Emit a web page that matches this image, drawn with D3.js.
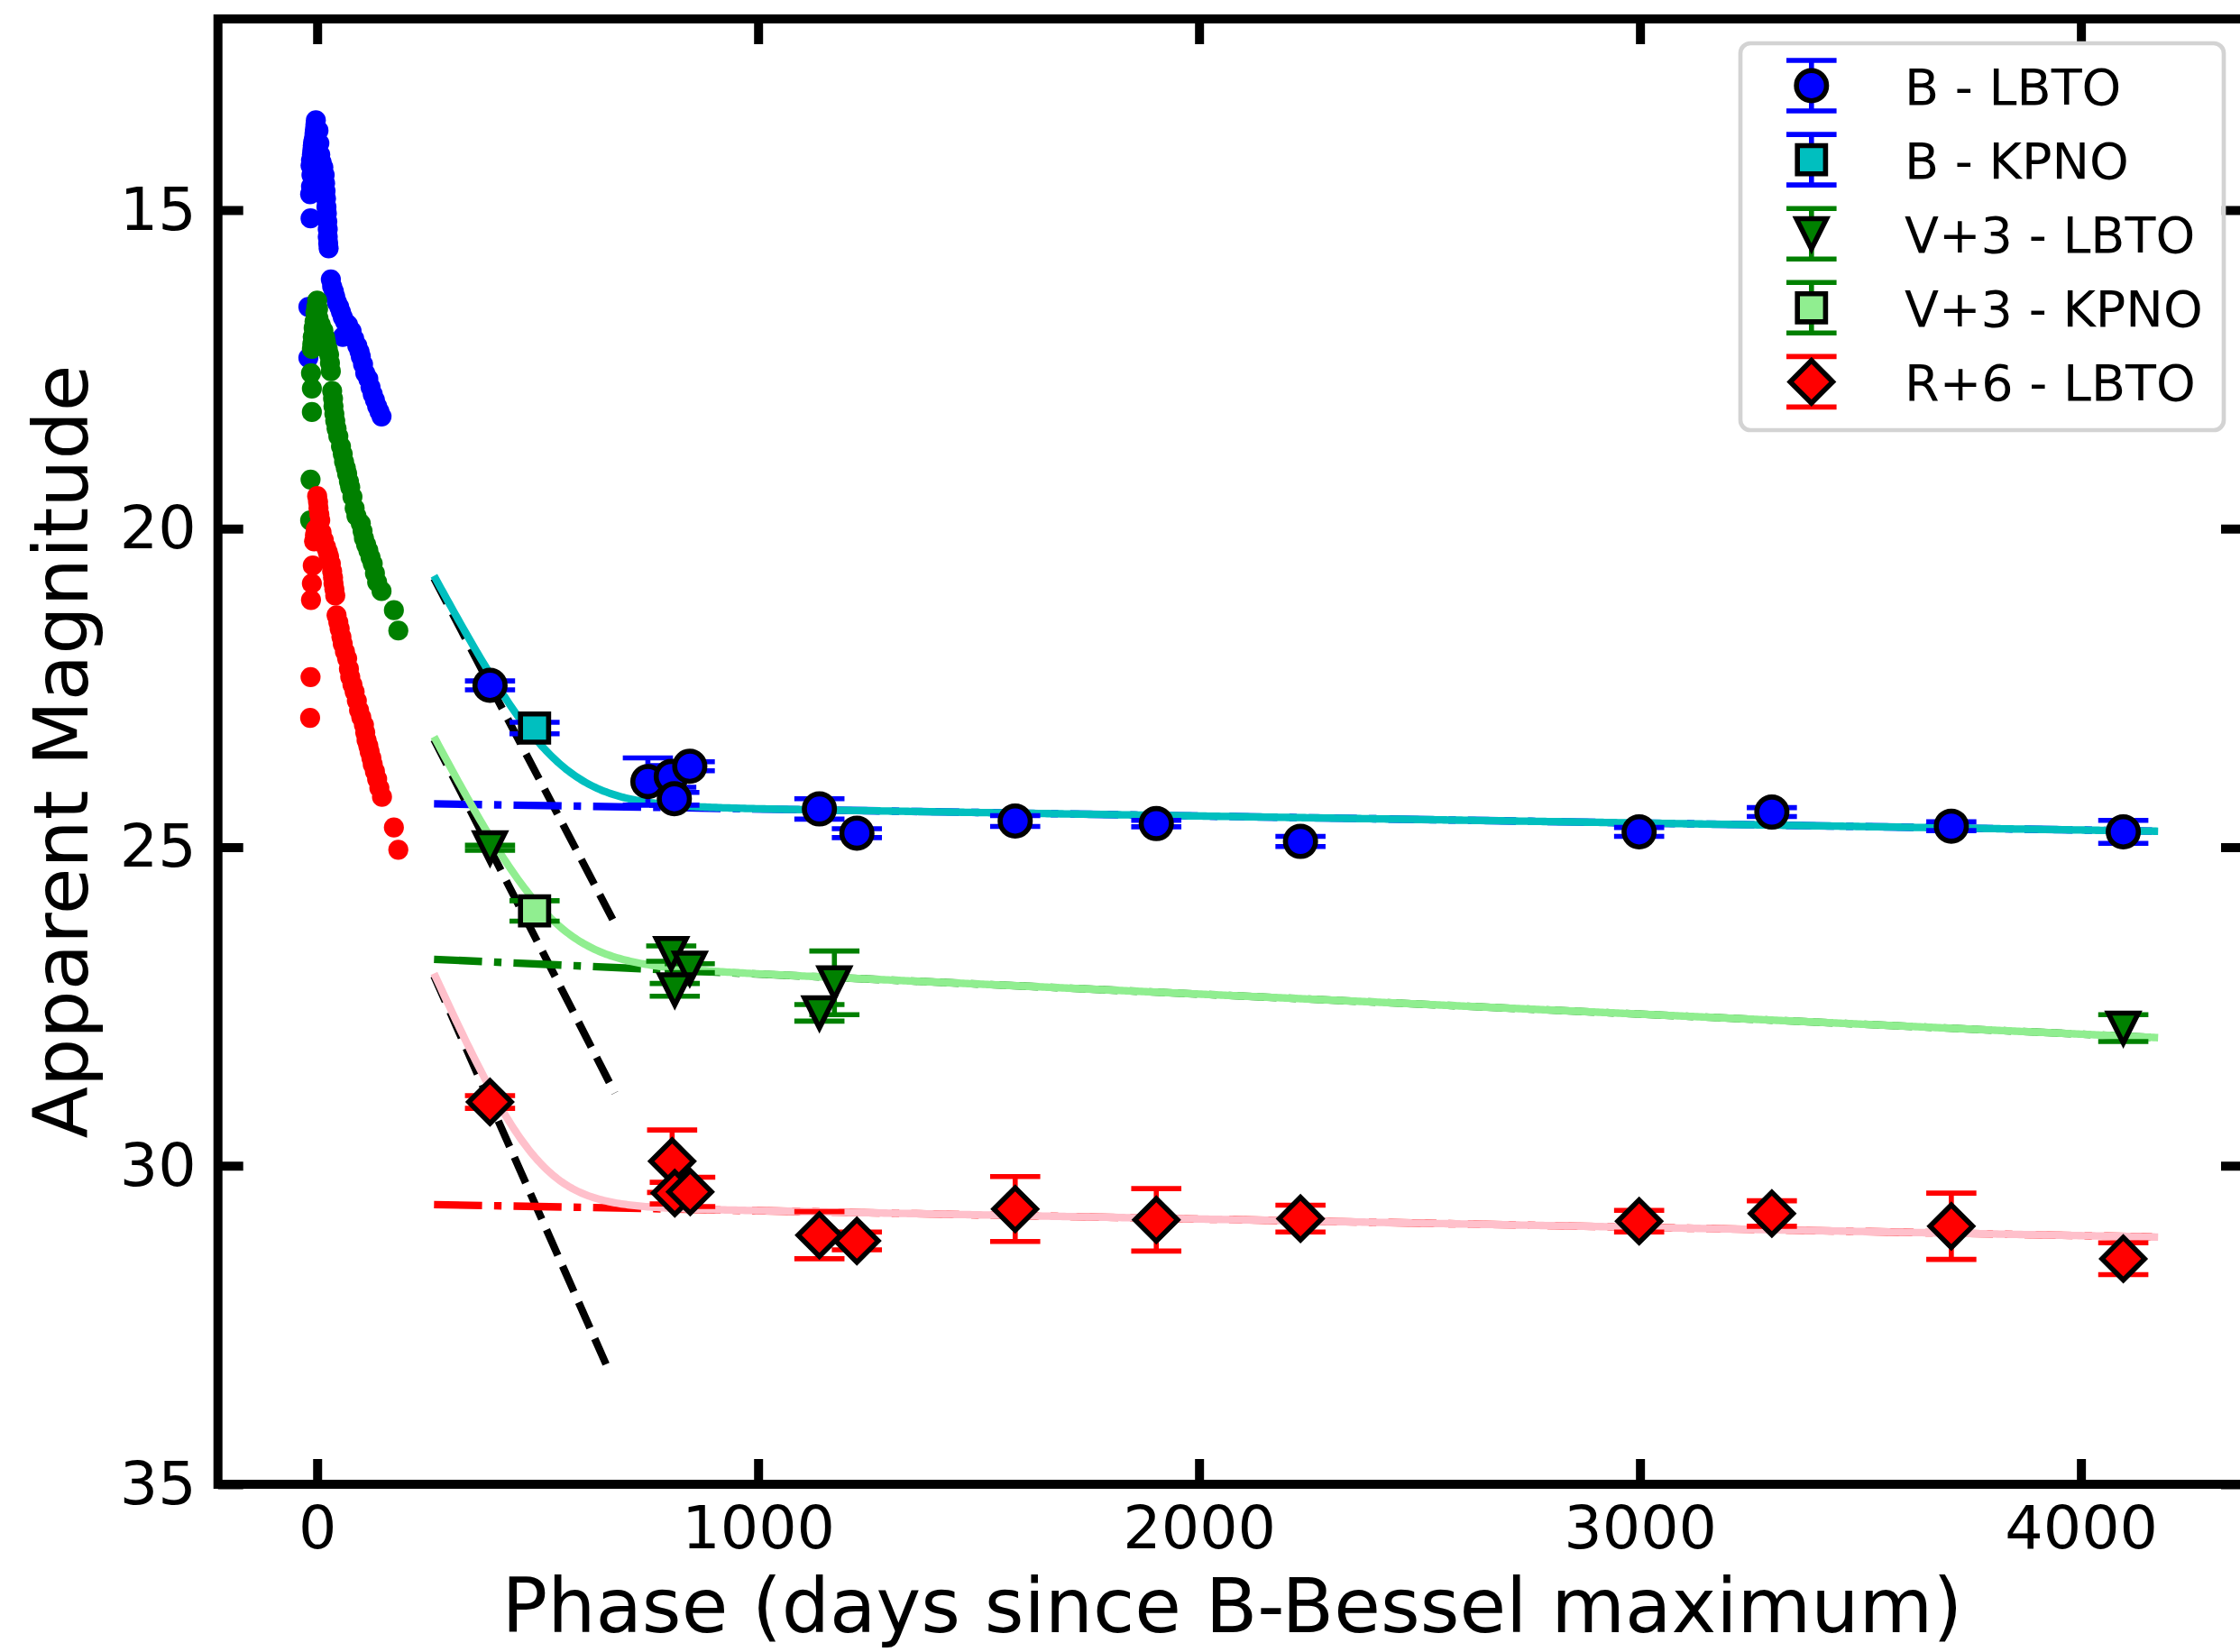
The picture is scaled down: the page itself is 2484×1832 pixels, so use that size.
<!DOCTYPE html>
<html>
<head>
<meta charset="utf-8">
<script src="https://cdn.jsdelivr.net/npm/d3@7"></script>
<style>
  body { margin: 0; background: #fff; }
  svg text { font-family: "DejaVu Sans", sans-serif; }
</style>
</head>
<body>
<svg id="chart"></svg>
<script>
const width  = 2484;
const height = 1832;

const x_ticks = [0, 1000, 2000, 3000, 4000];
const y_ticks = [15, 20, 25, 30, 35];

// early light curve, [phase, mag]
const early_b = [
  [-3, 13.59], [-4, 13.66], [-5, 13.73], [-6, 13.80], [-7, 13.87], [-9, 13.93], [-10, 13.99], [-11, 14.06],
  [-12, 14.13], [-14, 14.22], [-15, 14.30], [-13, 14.45], [-14, 14.63], [-16, 14.75], [-15, 15.13],
  [3, 13.75], [5, 13.95], [7, 14.13], [10, 14.25], [14, 14.33], [17, 14.45], [18, 14.58], [19, 14.70],
  [20, 14.82], [21, 14.95], [22, 15.05], [23, 15.18], [24, 15.30], [24, 15.42], [25, 15.52], [26, 15.60],
  [31, 16.09], [34, 16.20], [38, 16.28], [41, 16.36], [45, 16.45], [50, 16.52], [54, 16.60], [58, 16.68],
  [63, 16.75], [58, 16.99], [70, 16.80], [78, 16.90], [84, 17.02], [91, 17.13], [96, 17.22], [99, 17.30],
  [104, 17.42], [109, 17.56], [116, 17.65], [121, 17.78], [126, 17.89], [131, 17.98], [136, 18.08],
  [141, 18.16], [146, 18.24], [-20, 16.52], [-20, 17.32]
];

const early_v = [
  [0, 16.42], [-2, 16.52], [-4, 16.61], [-6, 16.75], [-8, 16.85], [-10, 16.99], [-11, 17.10], [-12, 17.18],
  [2, 16.55], [3, 16.70], [8, 16.80], [14, 16.89], [18, 17.00], [20, 17.08], [24, 17.18], [27, 17.27],
  [29, 17.40], [31, 17.53], [-14, 17.56], [-12, 17.80], [-12, 18.17], [-15, 19.23], [-16, 19.87],
  [34, 17.84], [36, 17.96], [37, 18.08], [39, 18.20], [41, 18.31], [44, 18.43], [48, 18.55], [54, 18.71],
  [58, 18.83], [61, 18.95], [65, 19.05], [68, 19.14], [72, 19.26], [75, 19.35], [80, 19.50], [85, 19.68],
  [89, 19.80], [99, 19.92], [103, 20.04], [106, 20.15], [111, 20.25], [116, 20.34], [121, 20.45],
  [126, 20.55], [131, 20.70], [136, 20.84], [146, 20.98], [174, 21.28], [184, 21.60]
];

const early_r = [
  [0, 19.49], [2, 19.58], [3, 19.68], [5, 19.78], [7, 19.87], [-3, 20.01], [-5, 20.10], [-7, 20.20],
  [10, 20.06], [15, 20.18], [20, 20.29], [24, 20.37], [27, 20.44], [31, 20.55], [34, 20.67], [36, 20.77],
  [37, 20.86], [39, 20.95], [41, 21.05], [-10, 20.58], [-12, 20.86], [-14, 21.12], [-15, 22.33], [-16, 22.97],
  [44, 21.36], [48, 21.47], [51, 21.57], [55, 21.70], [58, 21.81], [63, 21.93], [68, 22.04], [72, 22.20],
  [75, 22.33], [80, 22.45], [85, 22.56], [90, 22.70], [95, 22.85], [100, 22.96], [106, 23.08], [109, 23.20],
  [112, 23.32], [116, 23.41], [119, 23.50], [123, 23.60], [126, 23.70], [131, 23.81], [136, 23.93],
  [141, 24.07], [147, 24.21], [174, 24.69], [184, 25.04]
];

// late photometry, [phase, mag, err]
const late_b_lbto = [
  [392, 22.46, 0.07], [750, 23.97, 0.37], [803, 23.89, 0.17], [845, 23.73, 0.07], [810, 24.24, 0.10],
  [1139, 24.40, 0.16], [1224, 24.78, 0.07], [1583, 24.59, 0.085], [1903, 24.63, 0.05], [2230, 24.91, 0.08],
  [2998, 24.76, 0.07], [3299, 24.45, 0.07], [3706, 24.67, 0.07], [4096, 24.76, 0.18]
];
const late_b_kpno = [[493, 23.13, 0.09]];
const late_v_lbto = [
  [392, 25.01, 0.04], [803, 26.67, 0.12], [845, 26.90, 0.07], [811, 27.24, 0.10],
  [1173, 27.13, 0.50], [1139, 27.60, 0.13], [4096, 27.84, 0.21]
];
const late_v_kpno = [[493, 26.00, 0.16]];
const late_r_lbto = [
  [392, 29.00, 0.10], [805, 29.93, 0.49], [811, 30.43, 0.17], [846, 30.41, 0.23], [1139, 31.09, 0.37],
  [1224, 31.18, 0.14], [1583, 30.68, 0.51], [1903, 30.85, 0.49], [2230, 30.83, 0.21], [2998, 30.87, 0.17],
  [3299, 30.75, 0.20], [3706, 30.95, 0.52], [4096, 31.46, 0.25]
];

// fit components, [phase, mag] at both ends
const decline_b = [[265, 20.78], [673, 26.17]];
const decline_v = [[265, 23.31], [675, 28.86]];
const decline_r = [[265, 27.02], [665, 33.27]];
const plateau_b = [[265, 24.32], [4175, 24.75]];
const plateau_v = [[265, 26.76], [4175, 27.99]];
const plateau_r = [[265, 30.61], [4175, 31.12]];

const legend_labels = ['B - LBTO', 'B - KPNO', 'V+3 - LBTO', 'V+3 - KPNO', 'R+6 - LBTO'];


const option =
  {
    blue:  '#0000ff',
    green: '#008000',
    red:   '#ff0000',
    cyan:  '#00bfbf',
    lime:  '#90ee90',
    pink:  '#ffc0cb',
    lw:    8.33,
    elw:   5.6,
    cap:   27.8,
    mew:   5.6,
    font:  { tick: 66.7, label: 84, legend: 55.6 }
  };

const marker =
  {
    circle:   d3.symbol(d3.symbolCircle, Math.PI * 16.7 * 16.7)(),
    square:   'M-15.6,-15.6H15.6V15.6H-15.6Z',
    triangle: 'M0,16.7L-16.7,-16.7L16.7,-16.7Z',
    diamond:  'M0,-23.6L23.6,0L0,23.6L-23.6,0Z'
  };


const svg = d3.select('#chart')
  .attr('width', width)
  .attr('height', height)
  .attr('viewBox', `0 0 ${ width } ${ height }`)
;

const x = d3.scaleLinear().domain([-225, 4375]).range([241.7, 2491]);
const y = d3.scaleLinear().domain([12, 35]).range([21, 1646]);

const line = d3.line().x(d => x(d[0])).y(d => y(d[1]));


// fit lines: decline (dashed), plateau (dash-dot), combined curve
function model(decline, plateau)
{
  const m1 = d3.scaleLinear().domain(decline.map(d => d[0])).range(decline.map(d => d[1]));
  const m2 = d3.scaleLinear().domain(plateau.map(d => d[0])).range(plateau.map(d => d[1]));

  return d3.range(plateau[0][0], plateau[1][0] + 1, 5).map(t =>
    [t, -2.5 * Math.log10(Math.pow(10, -0.4 * m1(t)) + Math.pow(10, -0.4 * m2(t)))]);
}

const fits =
  [
    { decline: decline_b, plateau: plateau_b, dashdot: option.blue,  curve: option.cyan },
    { decline: decline_v, plateau: plateau_v, dashdot: option.green, curve: option.lime },
    { decline: decline_r, plateau: plateau_r, dashdot: option.red,   curve: option.pink }
  ];

const g_fit = svg.append('g');

fits.forEach(f =>
{
  g_fit.append('path')
    .attr('d', line(f.decline))
    .attr('fill', 'none')
    .attr('stroke', '#000')
    .attr('stroke-width', option.lw)
    .attr('stroke-dasharray', '31 13')
  ;
});

fits.forEach(f =>
{
  g_fit.append('path')
    .attr('d', line(f.plateau))
    .attr('fill', 'none')
    .attr('stroke', f.dashdot)
    .attr('stroke-width', option.lw)
    .attr('stroke-dasharray', '53.3 13.3 8.3 13.3')
  ;
});

fits.forEach(f =>
{
  g_fit.append('path')
    .attr('d', line(model(f.decline, f.plateau)))
    .attr('fill', 'none')
    .attr('stroke', f.curve)
    .attr('stroke-width', option.lw)
    .attr('stroke-linejoin', 'round')
  ;
});


// early light curve dots
[[early_b, option.blue], [early_v, option.green], [early_r, option.red]].forEach(([data, color]) =>
{
  svg.append('g').selectAll('circle')
    .data(data)
    .join('circle')
      .attr('cx', d => x(d[0]))
      .attr('cy', d => y(d[1]))
      .attr('r', 11.1)
      .attr('fill', color)
  ;
});


// late photometry with error bars
const series =
  [
    { data: late_b_lbto, ecolor: option.blue,  fill: option.blue,  shape: 'circle' },
    { data: late_b_kpno, ecolor: option.blue,  fill: option.cyan,  shape: 'square' },
    { data: late_v_lbto, ecolor: option.green, fill: option.green, shape: 'triangle' },
    { data: late_v_kpno, ecolor: option.green, fill: option.lime,  shape: 'square' },
    { data: late_r_lbto, ecolor: option.red,   fill: option.red,   shape: 'diamond' }
  ];

function errorbar(g, cx, y0, y1, color)
{
  g.append('line')
    .attr('x1', cx).attr('x2', cx).attr('y1', y0).attr('y2', y1)
    .attr('stroke', color).attr('stroke-width', option.elw)
  ;

  [y0, y1].forEach(cy =>
    g.append('line')
      .attr('x1', cx - option.cap).attr('x2', cx + option.cap).attr('y1', cy).attr('y2', cy)
      .attr('stroke', color).attr('stroke-width', option.elw)
  );
}

series.forEach(s =>
{
  const g = svg.append('g');

  s.data.forEach(d => errorbar(g, x(d[0]), y(d[1] - d[2]), y(d[1] + d[2]), s.ecolor));

  g.selectAll('path.marker')
    .data(s.data)
    .join('path')
      .attr('class', 'marker')
      .attr('transform', d => `translate( ${ x(d[0]) } ${ y(d[1]) } )`)
      .attr('d', marker[s.shape])
      .attr('fill', s.fill)
      .attr('stroke', '#000')
      .attr('stroke-width', option.mew)
  ;
});


// axes, ticks inward on all four sides
function style_axis(g)
{
  g.select('.domain').remove();
  g.selectAll('.tick line').attr('stroke', '#000').attr('stroke-width', 10);
  g.attr('font-family', '"DejaVu Sans", sans-serif').attr('font-size', option.font.tick);
  g.selectAll('.tick text').attr('fill', '#000');
}

const fmt = d3.format('d');

svg.append('g')
  .attr('transform', `translate( 0 ${ y.range()[1] } )`)
  .call(d3.axisBottom(x).tickValues(x_ticks).tickFormat(fmt).tickSizeInner(-28).tickSizeOuter(0).tickPadding(24))
  .call(style_axis)
;

svg.append('g')
  .attr('transform', `translate( 0 ${ y.range()[0] } )`)
  .call(d3.axisTop(x).tickValues(x_ticks).tickSizeInner(-28).tickSizeOuter(0).tickFormat(''))
  .call(style_axis)
;

svg.append('g')
  .attr('transform', `translate( ${ x.range()[0] } 0 )`)
  .call(d3.axisLeft(y).tickValues(y_ticks).tickFormat(fmt).tickSizeInner(-28).tickSizeOuter(0).tickPadding(24))
  .call(style_axis)
;

svg.append('g')
  .attr('transform', `translate( ${ x.range()[1] } 0 )`)
  .call(d3.axisRight(y).tickValues(y_ticks).tickSizeInner(-28).tickSizeOuter(0).tickFormat(''))
  .call(style_axis)
;

svg.append('rect')
  .attr('x', x.range()[0])
  .attr('y', y.range()[0])
  .attr('width', x.range()[1] - x.range()[0])
  .attr('height', y.range()[1] - y.range()[0])
  .attr('fill', 'none')
  .attr('stroke', '#000')
  .attr('stroke-width', 10)
;

svg.append('text')
  .text('Phase (days since B-Bessel maximum)')
  .attr('x', (x.range()[0] + x.range()[1]) / 2)
  .attr('y', 1810)
  .attr('font-size', option.font.label)
  .attr('text-anchor', 'middle')
  .attr('fill', '#000')
;

svg.append('text')
  .text('Apparent Magnitude')
  .attr('transform', `translate( 97 ${ (y.range()[0] + y.range()[1]) / 2 } ) rotate(-90)`)
  .attr('font-size', option.font.label)
  .attr('text-anchor', 'middle')
  .attr('fill', '#000')
;


// legend
const legend = svg.append('g');

legend.append('rect')
  .attr('x', 1930)
  .attr('y', 48)
  .attr('width', 536)
  .attr('height', 429)
  .attr('rx', 11)
  .attr('fill', '#fff')
  .attr('fill-opacity', 0.8)
  .attr('stroke', '#d3d3d3')
  .attr('stroke-width', 4.7)
;

series.forEach((s, i) =>
{
  const cy = 95 + i * 82.1;
  const cx = 2008.8;

  errorbar(legend, cx, cy - 28, cy + 28, s.ecolor);

  legend.append('path')
    .attr('transform', `translate( ${ cx } ${ cy } )`)
    .attr('d', marker[s.shape])
    .attr('fill', s.fill)
    .attr('stroke', '#000')
    .attr('stroke-width', option.mew)
  ;

  legend.append('text')
    .text(legend_labels[i])
    .attr('x', 2112)
    .attr('y', cy + 20.5)
    .attr('font-size', option.font.legend)
    .attr('fill', '#000')
  ;
});
</script>
</body>
</html>
